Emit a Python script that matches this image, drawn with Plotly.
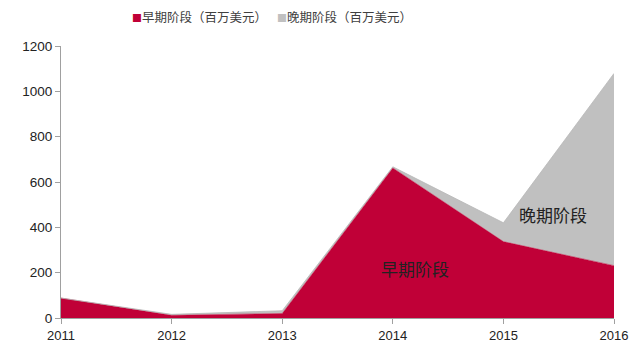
import plotly.graph_objects as go

years = [2011, 2012, 2013, 2014, 2015, 2016]
early = [88, 12, 20, 662, 337, 231]
late = [0, 4, 12, 5, 83, 848]
series_names = ["早期阶段（百万美元）", "晚期阶段（百万美元）"]
label_names = ["早期阶段", "晚期阶段"]
y_ticks = [0, 200, 400, 600, 800, 1000, 1200]

RED = "#C00037"
GRAY = "#C0C0C0"

fig = go.Figure()
fig.add_trace(go.Scatter(x=years, y=early, name=series_names[0], stackgroup="s",
                         mode="lines", line=dict(width=0.5, color=RED),
                         fillcolor=RED, showlegend=False))
fig.add_trace(go.Scatter(x=years, y=late, name=series_names[1], stackgroup="s",
                         mode="lines", line=dict(width=0.8, color="#B8B8B8"),
                         fillcolor=GRAY, showlegend=False))

fig.add_annotation(x=2014.2, y=220, text=label_names[0], showarrow=False,
                   font=dict(family="Noto Sans CJK SC", size=17, color="#222222"))
fig.add_annotation(x=2015.45, y=455, text=label_names[1], showarrow=False,
                   font=dict(family="Noto Sans CJK SC", size=17, color="#222222"))

# legend drawn as text
leg_font = dict(family="Noto Sans CJK SC", size=12.5, color="#404040")
for i, (nm, col, xp) in enumerate(zip(series_names, [RED, GRAY], [0.124, 0.387])):
    fig.add_annotation(xref="paper", yref="paper", x=xp, y=1.11, xanchor="left",
                       yanchor="middle", showarrow=False,
                       text=f'<span style="color:{col};font-size:10px">■</span>{nm}',
                       font=leg_font)

fig.update_layout(
    width=640, height=355,
    margin=dict(l=61, r=24, t=46, b=37),
    plot_bgcolor="white", paper_bgcolor="white",
    showlegend=False,
    xaxis=dict(range=[2011, 2016], tickvals=years, ticktext=[str(y) for y in years],
               showgrid=False, zeroline=False, showline=True, linecolor="#A0A0A0",
               linewidth=1, ticks="outside", ticklen=5, tickcolor="#A0A0A0",
               tickfont=dict(family="Liberation Sans", size=13, color="#222222")),
    yaxis=dict(range=[0, 1200], tickvals=y_ticks, showgrid=False, zeroline=False,
               showline=True, linecolor="#A0A0A0", linewidth=1, ticks="outside",
               ticklen=5, tickcolor="#A0A0A0",
               tickfont=dict(family="Liberation Sans", size=13.5, color="#222222")),
)

fig.write_html("out.html")
